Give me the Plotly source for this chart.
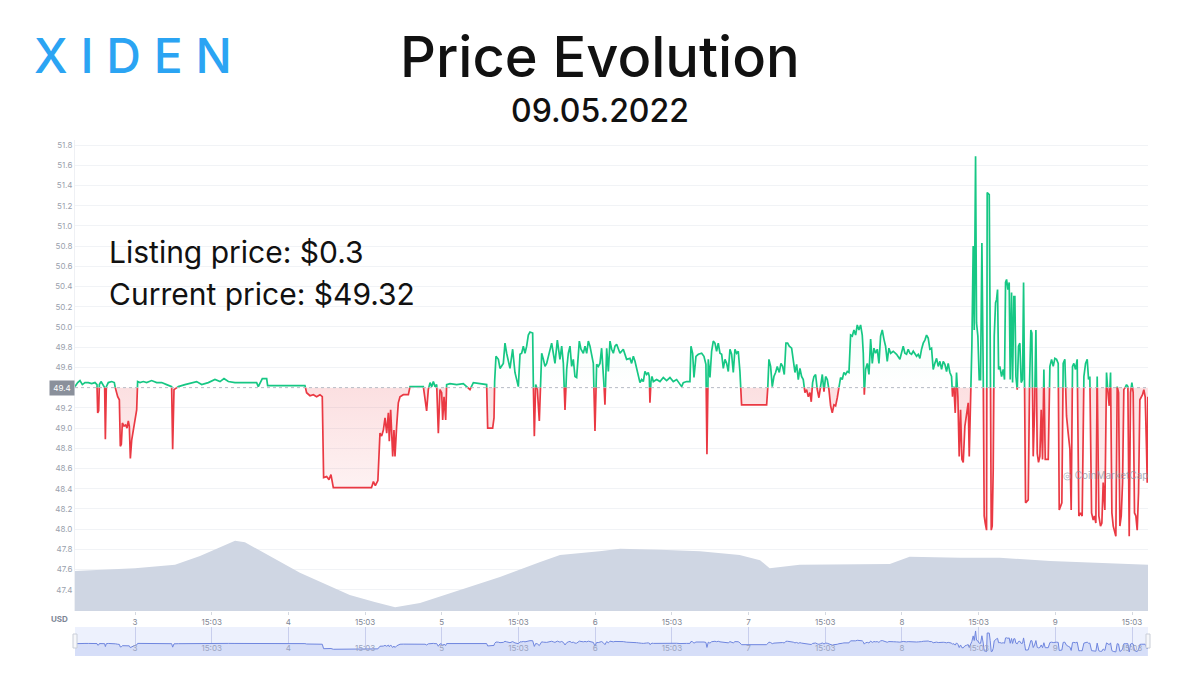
import plotly.graph_objects as go

BASE = 49.4

# price series: hours since May 3 00:00, price in USD
hours = [-9.39, -8.97, -8.61, -8.24, -7.83, -7.3, -6.78, -6.26, -5.95, -5.84, -5.69, -5.58, -5.32, -4.96, -4.75,
         -4.64, -4.49, -4.18, -3.65, -3.24, -3.03, -2.71, -2.45, -2.3, -2.14, -1.98, -1.72, -1.46, -1.25, -1.05,
         -0.89, -0.73, -0.52, -0.26, 0.0, 0.26, 0.41, 0.78, 1.3, 1.82, 2.6, 3.39, 4.17, 4.95, 5.73, 5.89, 6.1,
         6.78, 7.82, 8.86, 9.64, 10.43, 11.47, 12.51, 13.3, 13.92, 14.6, 15.64, 16.69, 17.73, 19.03, 19.29, 19.92,
         20.6, 20.75, 22.94, 25.03, 26.59, 26.85, 27.38, 27.9, 28.42, 28.94, 29.3, 29.51, 29.98, 30.35, 30.66,
         31.03, 34.4, 36.5, 37.0, 37.3, 37.6, 38.0,
         38.33, 38.59, 38.86, 39.12, 39.38, 39.64, 39.79, 40.0, 40.16, 40.32, 40.52, 40.68, 40.94, 41.2, 41.46,
         41.98, 42.77, 43.03, 45.11, 45.37, 45.53, 45.63, 45.89, 46.16, 46.42, 46.68, 46.94, 47.2, 47.46, 47.72,
         47.98, 48.14, 48.35, 48.61, 48.76, 49.28, 50.33, 51.37, 52.41, 52.94, 53.98, 55.02, 55.18, 55.96, 56.17,
         56.27, 56.48, 56.85, 57.11, 57.63, 57.89, 58.15, 58.67, 59.09, 59.45, 59.98, 60.24, 60.5, 60.76, 61.02,
         61.28, 61.54, 61.8, 62.22, 62.32, 62.48, 62.69, 62.95, 63.26, 63.63, 63.89, 64.15, 64.41, 64.93, 65.19,
         65.45, 65.71, 66.08, 66.49, 66.76, 67.02, 67.28, 67.54, 67.8, 68.06, 68.32, 68.58, 68.84, 69.1, 69.52,
         69.78, 70.15, 70.41, 70.67, 70.93, 71.19, 71.71, 71.97, 72.23, 72.49, 72.75, 73.01, 73.27, 73.53, 73.8,
         74.06, 74.32, 74.58, 74.84, 75.1, 75.36, 75.88, 76.4, 76.92, 77.44,
         77.7, 77.97, 78.23, 78.49, 78.75, 79.01, 79.27, 79.53, 79.79, 80.05, 80.31, 80.47, 80.57, 80.73, 80.89,
         81.1, 81.62, 82.14, 82.66, 83.18, 83.7, 84.22, 84.75, 85.27, 85.53, 85.79, 86.31, 86.83, 86.99, 87.25,
         87.46, 87.77, 88.14, 88.66, 89.02, 89.33, 89.49, 89.7, 89.96, 90.22, 90.48, 90.74, 91.0, 91.26, 91.53,
         91.79, 92.05, 92.31, 92.57, 92.83, 93.09, 93.35, 93.61, 93.87, 94.13, 94.39, 94.65, 94.91, 98.83, 98.98,
         99.19, 99.45, 99.71, 99.97, 100.23, 100.49, 100.81, 101.07, 101.33, 101.59, 101.85, 102.11, 102.37,
         102.74, 103.0, 103.26, 103.52, 103.78, 104.04, 104.3, 104.56, 104.82, 105.08, 105.35, 105.61, 105.81,
         106.02, 106.23, 106.49, 106.75, 107.01, 107.27, 107.54, 107.8, 108.06, 108.32, 108.58, 108.84, 109.1,
         109.36, 109.62, 109.88, 110.14, 110.4, 110.66, 110.92, 111.19, 111.45, 111.71, 111.97, 112.23, 112.49,
         112.75, 113.01, 113.27, 113.53, 113.79, 113.95, 114.11, 114.31, 114.58, 114.84, 115.1, 115.36, 115.62,
         115.88, 116.14, 116.4, 116.66, 116.92, 117.18, 117.44, 117.7, 117.96, 118.23, 118.64, 119.16, 119.68,
         120.2, 120.46, 120.72, 120.98, 121.24, 121.5, 121.77, 122.03, 122.29, 122.55, 122.81, 123.07, 123.33,
         123.59, 123.85, 124.11, 124.37, 124.63, 124.89, 125.15, 125.42, 125.68, 125.94, 126.2, 126.46, 126.72,
         126.98, 127.24, 127.5, 127.76, 127.92, 128.13, 128.34, 128.54, 128.75, 128.96, 129.17, 129.38, 129.59,
         129.85, 130.11, 130.37, 130.53, 130.73, 130.94, 131.15, 131.31, 131.52, 131.67, 131.88, 132.09, 132.3,
         132.51, 132.72, 132.87, 133.03, 133.24, 133.34, 133.66, 133.81, 133.97, 134.12, 134.28, 134.44, 134.65,
         134.8, 134.96, 135.12, 135.32, 135.59, 135.85, 136.05, 136.21, 136.37, 136.58, 136.78, 136.94, 137.15,
         137.31, 137.51, 137.67, 137.83, 138.04, 138.24, 138.45, 138.66, 138.87, 139.03, 139.18, 139.34, 139.76,
         139.97, 140.17, 140.33, 140.54, 140.75, 140.96, 141.17, 141.37, 141.58, 141.79, 142.0, 142.21, 142.42,
         142.89, 143.15, 143.41, 143.67, 143.93, 144.19, 144.45, 144.61, 145.02, 145.23, 145.49, 145.75, 146.01,
         146.28, 146.48, 146.69, 146.9, 147.16, 147.42, 147.68, 147.94, 148.2, 148.47, 148.73, 148.99, 149.2,
         149.4, 149.67, 149.93, 150.13, 150.34, 150.55, 150.81, 151.07, 151.28, 151.49, 151.75, 152.01, 152.22,
         152.43, 152.64, 152.85, 153.06, 153.26, 153.47, 153.68, 153.89, 154.1, 154.31, 154.52, 154.72, 154.93,
         155.14, 155.35, 155.56, 155.77, 155.98, 156.18, 156.39, 156.6, 156.81, 157.02, 157.23, 157.44, 157.64,
         157.85, 158.06, 158.27, 158.38, 158.48]

price = [49.41, 49.45, 49.47, 49.43, 49.45, 49.45, 49.44, 49.45, 49.43, 49.15, 49.17, 49.43, 49.46, 49.43, 49.41,
         48.89, 49.41, 49.45, 49.46, 49.45, 49.38, 49.31, 49.28, 48.82, 48.84, 49.05, 49.02, 49.03, 49.00, 49.07,
         49.02, 48.70, 48.88, 48.98, 49.10, 49.18, 49.46, 49.45, 49.46, 49.45, 49.47, 49.45, 49.45, 49.43, 49.41,
         48.79, 49.38, 49.41, 49.43, 49.45, 49.46, 49.43, 49.45, 49.48, 49.46, 49.49, 49.46, 49.45, 49.45, 49.45,
         49.45, 49.41, 49.49, 49.49, 49.42, 49.42, 49.42, 49.42, 49.35, 49.32, 49.33, 49.31, 49.33, 49.31, 48.51,
         48.52, 48.49, 48.54, 48.41, 48.41, 48.41, 48.41, 48.47, 48.43, 48.48,
         48.95, 48.92, 48.98, 49.10, 48.95, 49.15, 48.87, 49.18, 48.85, 48.72, 48.98, 48.72, 49.02, 49.25, 49.31,
         49.33, 49.33, 49.41, 49.41, 49.31, 49.25, 49.17, 49.38, 49.45, 49.41, 49.46, 49.41, 49.43, 48.95, 49.38,
         49.35, 49.08, 49.31, 49.08, 49.43, 49.44, 49.43, 49.44, 49.38, 49.45, 49.44, 49.43, 49.00, 49.00, 49.10,
         49.46, 49.71, 49.68, 49.59, 49.64, 49.84, 49.74, 49.59, 49.78, 49.55, 49.41, 49.73, 49.74, 49.81, 49.74,
         49.81, 49.92, 49.95, 49.94, 49.45, 48.92, 49.43, 49.38, 49.07, 49.74, 49.68, 49.61, 49.64, 49.78, 49.84,
         49.74, 49.64, 49.87, 49.68, 49.81, 49.64, 49.18, 49.58, 49.74, 49.81, 49.61, 49.68, 49.51, 49.50, 49.86,
         49.78, 49.74, 49.81, 49.74, 49.86, 49.81, 49.64, 48.97, 49.63, 49.61, 49.64, 49.79, 49.58, 49.23, 49.79,
         49.56, 49.86, 49.78, 49.74, 49.81, 49.83, 49.74, 49.78, 49.68, 49.69,
         49.64, 49.71, 49.66, 49.59, 49.55, 49.45, 49.48, 49.46, 49.56, 49.53, 49.55, 49.51, 49.25, 49.46, 49.51,
         49.46, 49.48, 49.46, 49.50, 49.47, 49.50, 49.46, 49.48, 49.43, 49.41, 49.45, 49.46, 49.46, 49.81, 49.74,
         49.50, 49.71, 49.73, 49.74, 49.71, 49.63, 48.74, 49.68, 49.50, 49.76, 49.86, 49.84, 49.76, 49.84, 49.74,
         49.73, 49.59, 49.68, 49.64, 49.56, 49.78, 49.73, 49.55, 49.78, 49.74, 49.76, 49.56, 49.23, 49.23, 49.36,
         49.68, 49.61, 49.41, 49.51, 49.55, 49.61, 49.55, 49.64, 49.61, 49.53, 49.84, 49.84, 49.81,
         49.79, 49.68, 49.55, 49.63, 49.48, 49.59, 49.51, 49.48, 49.35, 49.38, 49.31, 49.35, 49.26,
         49.45, 49.51, 49.53, 49.38, 49.30, 49.41, 49.53, 49.36, 49.51, 49.48, 49.38, 49.22, 49.15,
         49.23, 49.22, 49.30, 49.40, 49.50, 49.48, 49.55, 49.53, 49.56, 49.55, 49.92, 49.91, 49.97,
         49.92, 50.02, 49.97, 50.02, 49.92, 49.74, 49.33, 49.58, 49.64, 49.53, 49.88, 49.64, 49.79,
         49.74, 49.78, 49.64, 49.91, 49.97, 49.88, 49.81, 49.66, 49.79, 49.74, 49.76, 49.73, 49.68,
         49.81, 49.74, 49.73, 49.78, 49.74, 49.73, 49.76, 49.73, 49.71, 49.73, 49.69, 49.78, 49.84,
         49.87, 49.92, 49.89, 49.78, 49.79, 49.58, 49.64, 49.69, 49.61, 49.66, 49.58, 49.66, 49.63,
         49.56, 49.64, 49.55, 49.51, 49.31, 49.41, 49.15, 49.55, 49.31, 48.72, 49.18, 48.69, 48.66,
         49.02, 49.12, 49.25, 48.72, 49.25, 49.81, 50.80, 49.97, 51.69, 50.04, 49.91, 49.48, 49.48,
         50.83, 49.51, 48.13, 48.06, 47.99, 51.33, 51.31, 49.97, 47.99, 48.03, 48.59, 49.91, 50.24,
         50.27, 50.37, 49.58, 49.61, 49.51, 49.58, 49.48, 50.44, 50.47, 50.37, 50.44, 49.48, 50.34,
         49.45, 50.30, 50.30, 49.51, 49.38, 49.81, 49.84, 49.45, 49.48, 50.44, 49.45, 48.26, 48.29,
         49.45, 49.97, 49.94, 48.72, 49.18, 49.97, 48.75, 48.66, 48.72, 49.18, 48.69, 49.58, 48.69,
         48.69, 49.61, 49.68, 49.61, 49.69, 49.68, 49.64, 48.19, 48.26, 49.64, 49.68, 49.12, 48.95,
         48.79, 48.19, 49.61, 49.64, 49.58, 49.68, 48.13, 48.16, 48.13, 49.51, 49.64, 49.68, 49.48,
         49.51, 48.16, 48.09, 48.13, 48.06, 49.51, 48.13, 48.03, 48.06, 48.46, 48.19, 49.55, 49.35,
         49.22, 49.55, 48.16, 48.03, 47.99, 47.93, 49.41, 49.35, 48.03, 48.13, 48.46, 49.38, 49.40,
         49.43, 49.41, 47.93, 49.35, 49.45, 49.35, 48.16, 48.13, 47.99, 48.36, 49.28, 49.31, 49.33,
         49.38, 49.31, 48.79, 48.46, 49.31]

# trading volume (millions USD)
vol_hours = [-9.39, 0.0, 6.26, 10.17, 15.65, 17.2, 25.8, 33.6, 37.5, 40.7, 44.6, 50.8, 57.1, 63.4, 66.5, 72.7,
             75.9, 82.1, 88.4, 94.6, 97.8, 99.3, 104.0, 118.1, 121.2, 129.1, 135.3, 143.2, 151.0, 158.5]
volume = [0.85, 0.91, 0.98, 1.17, 1.49, 1.46, 0.81, 0.34, 0.19, 0.08, 0.17, 0.45, 0.72, 1.04, 1.19, 1.27,
          1.32, 1.30, 1.27, 1.19, 1.08, 0.91, 0.98, 1.00, 1.15, 1.13, 1.13, 1.06, 1.02, 0.98]

tick_hours = [0, 12, 24, 36, 48, 60, 72, 84, 96, 108, 120, 132, 144, 156]
tick_text = ["3", "15:03", "4", "15:03", "5", "15:03", "6", "15:03", "7", "15:03", "8", "15:03", "9", "15:03"]
y_ticks = [47.4, 47.6, 47.8, 48.0, 48.2, 48.4, 48.6, 48.8, 49.0, 49.2, 49.6, 49.8, 50.0, 50.2, 50.4,
           50.6, 50.8, 51.0, 51.2, 51.4, 51.6, 51.8]

GREEN = "#16c784"
RED = "#ea3943"


def split_at_base(h, p, base):
    H, P = [h[0]], [p[0]]
    for i in range(1, len(h)):
        a, b = p[i - 1], p[i]
        if (a - base) * (b - base) < 0:
            t = (base - a) / (b - a)
            H.append(h[i - 1] + t * (h[i] - h[i - 1]))
            P.append(base)
        H.append(h[i])
        P.append(b)
    return H, P


H, P = split_at_base(hours, price, BASE)
up_line = [v if v >= BASE else None for v in P]
dn_line = [v if v <= BASE else None for v in P]
up_fill = [max(v, BASE) for v in P]
dn_fill = [min(v, BASE) for v in P]
base_line = [BASE] * len(H)

fig = go.Figure()

# volume area
fig.add_trace(go.Scatter(x=vol_hours, y=volume, mode="lines", fill="tozeroy",
                         line=dict(width=0, color="#cfd6e3"), fillcolor="#cfd6e3",
                         xaxis="x", yaxis="y2", hoverinfo="skip", showlegend=False))

# fills
fig.add_trace(go.Scatter(x=H, y=base_line, mode="lines", line=dict(width=0), hoverinfo="skip", showlegend=False))
fig.add_trace(go.Scatter(x=H, y=up_fill, mode="lines", line=dict(width=0), fill="tonexty",
                         fillgradient=dict(type="vertical",
                                           colorscale=[[0, "rgba(22,199,132,0.0)"], [1, "rgba(22,199,132,0.16)"]],
                                           start=BASE, stop=51.8),
                         hoverinfo="skip", showlegend=False))
fig.add_trace(go.Scatter(x=H, y=base_line, mode="lines", line=dict(width=0), hoverinfo="skip", showlegend=False))
fig.add_trace(go.Scatter(x=H, y=dn_fill, mode="lines", line=dict(width=0), fill="tonexty",
                         fillgradient=dict(type="vertical",
                                           colorscale=[[0, "rgba(234,57,67,0.02)"], [1, "rgba(234,57,67,0.16)"]],
                                           start=47.9, stop=BASE),
                         hoverinfo="skip", showlegend=False))

# price lines
fig.add_trace(go.Scatter(x=H, y=up_line, mode="lines", line=dict(color=GREEN, width=1.7),
                         connectgaps=False, showlegend=False))
fig.add_trace(go.Scatter(x=H, y=dn_line, mode="lines", line=dict(color=RED, width=1.7),
                         connectgaps=False, showlegend=False))

# navigator
fig.add_trace(go.Scatter(x=hours, y=price, mode="lines", fill="tozeroy",
                         line=dict(color="#6f86df", width=1), fillcolor="#d6def8",
                         xaxis="x2", yaxis="y3", hoverinfo="skip", showlegend=False))

L, R = 75 / 1200, 1148 / 1200
fig.update_layout(
    width=1200, height=675,
    margin=dict(l=0, r=0, t=0, b=0),
    paper_bgcolor="white", plot_bgcolor="white",
    font=dict(family="Inter"),
    xaxis=dict(domain=[L, R], range=[-9.39, 158.5], tickmode="array", tickvals=tick_hours, ticktext=tick_text,
               showgrid=False, zeroline=False, showline=False, ticks="outside", ticklen=3, tickcolor="#d5d9e0",
               tickfont=dict(size=8, color="#7f8694"), anchor="y"),
    yaxis=dict(domain=[1 - 611 / 675, 1 - 140 / 675], range=[47.19, 51.85], tickmode="array",
               tickvals=y_ticks, ticktext=[f"{v:.1f}" for v in y_ticks], gridcolor="#f1f3f6",
               zeroline=False, showline=True, linecolor="#eef0f4",
               tickfont=dict(size=8, color="#9aa1ad"), anchor="x"),
    yaxis2=dict(overlaying="y", range=[0, 10], visible=False),
    xaxis2=dict(domain=[L, R], range=[-9.39, 158.5], tickmode="array", tickvals=tick_hours, ticktext=tick_text,
                showgrid=True, gridcolor="rgba(190,198,232,0.8)", zeroline=False, showline=False,
                ticklabelposition="inside", ticks="", tickfont=dict(size=8, color="#9aa3bf"), anchor="y3"),
    yaxis3=dict(domain=[1 - 656 / 675, 1 - 627 / 675], range=[47.2, 52.4], visible=False, anchor="x2"),
)

# navigator background and handles
fig.add_shape(type="rect", xref="paper", yref="paper", x0=L, x1=R, y0=1 - 656 / 675, y1=1 - 627 / 675,
              fillcolor="#edf1fd", line=dict(width=0), layer="below")
for xh in (L, R):
    fig.add_shape(type="rect", xref="paper", yref="paper", x0=xh - 2 / 1200, x1=xh + 2 / 1200,
                  y0=1 - 648 / 675, y1=1 - 634 / 675, fillcolor="#f6f7fa", line=dict(color="#c9ced8", width=1))

# baseline
fig.add_shape(type="line", xref="paper", yref="y", x0=L, x1=R, y0=BASE, y1=BASE,
              line=dict(color="#b6bbc5", width=1, dash="dot"))

# badge for baseline price
fig.add_annotation(xref="paper", yref="y", x=L, y=BASE, xanchor="right", yanchor="middle", text="49.4",
                   showarrow=False, bgcolor="#8a909b", font=dict(size=8, color="white"), borderpad=2, width=20)

fig.add_annotation(xref="paper", yref="paper", x=70 / 1200, y=1 - 619 / 675, xanchor="right", yanchor="middle",
                   text="<b>USD</b>", showarrow=False, font=dict(size=8, color="#7d8595"))

# watermark
fig.add_annotation(xref="paper", yref="paper", x=1105 / 1200, y=1 - 475 / 675, xanchor="center", yanchor="middle",
                   text="◎ CoinMarketCap", showarrow=False, font=dict(size=10, color="rgba(140,146,162,0.75)"))

# titles
fig.add_annotation(xref="paper", yref="paper", x=0.5, y=1 - 57 / 675, xanchor="center", yanchor="middle",
                   text="Price Evolution", showarrow=False,
                   font=dict(size=56, color="#111111", family="Inter", weight=500))
fig.add_annotation(xref="paper", yref="paper", x=0.5, y=1 - 110 / 675, xanchor="center", yanchor="middle",
                   text="09.05.2022", showarrow=False,
                   font=dict(size=32, color="#111111", family="Inter", weight=500))
fig.add_annotation(xref="paper", yref="paper", x=133 / 1200, y=1 - 56 / 675, xanchor="center", yanchor="middle",
                   text="X I D E N", showarrow=False,
                   font=dict(size=48, color="#2ba4f3", family="Inter", weight=500))
fig.add_annotation(xref="paper", yref="paper", x=107 / 1200, y=1 - 252 / 675, xanchor="left", yanchor="middle",
                   text="Listing price: $0.3", showarrow=False,
                   font=dict(size=30, color="#111111", family="Inter"))
fig.add_annotation(xref="paper", yref="paper", x=107 / 1200, y=1 - 294 / 675, xanchor="left", yanchor="middle",
                   text="Current price: $49.32", showarrow=False,
                   font=dict(size=30, color="#111111", family="Inter"))

fig.write_html("out.html")
